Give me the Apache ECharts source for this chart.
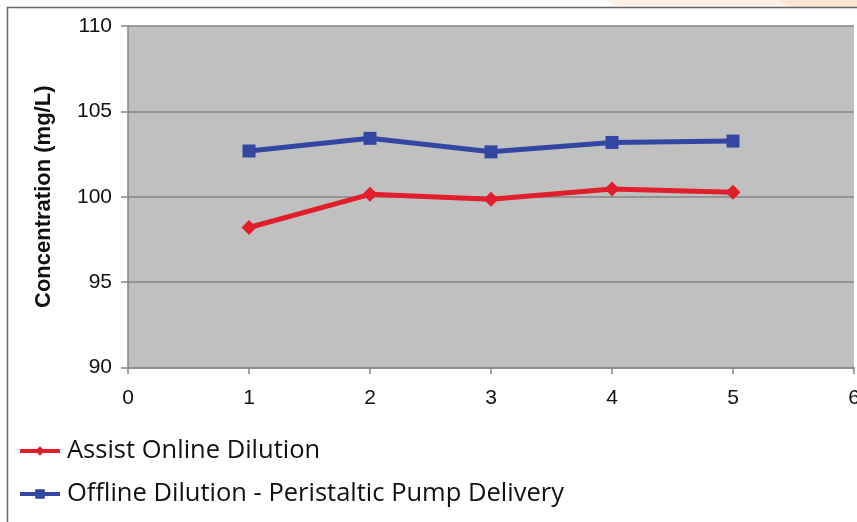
<!DOCTYPE html>
<html><head><meta charset="utf-8">
<script src="https://cdn.jsdelivr.net/npm/echarts@6/dist/echarts.min.js"></script>
<style>html,body{margin:0;padding:0;background:#fff}#c{width:857px;height:522px}</style>
</head><body><div id="c"></div>
<script>
const runs = [1, 2, 3, 4, 5];
const assistOnline = [98.2, 100.14, 99.85, 100.45, 100.26];
const offlinePump = [102.68, 103.42, 102.63, 103.18, 103.26];
const seriesNames = ['Assist Online Dilution', 'Offline Dilution - Peristaltic Pump Delivery'];
const yTitle = 'Concentration (mg/L)';

const chart = echarts.init(document.getElementById('c'), null, {renderer: 'canvas'});
const axisGray = '#868686';
chart.setOption({
  animation: false,
  backgroundColor: '#ffffff',
  graphic: [
    {type: 'polygon', shape: {points: [[605,0],[857,0],[857,7],[620,7]]}, style: {fill: '#fdf1e8'}, z: -10},
    {type: 'polygon', shape: {points: [[780,0],[857,0],[857,7],[790,7]]}, style: {fill: '#fbe6d6'}, z: -9},
    {type: 'rect', shape: {x: 7.5, y: 7.5, width: 900, height: 600}, style: {fill: 'none', stroke: '#666', lineWidth: 1.5}, z: 10}
  ],
  grid: {left: 128, top: 26, right: 3, bottom: 154.5, show: true, backgroundColor: '#c0c0c0', borderWidth: 0, outerBoundsMode: 'none', containLabel: false},
  legend: {
    orient: 'vertical', left: 18, top: 438, padding: 0, itemGap: 17, itemWidth: 40, itemHeight: 12,
    lineStyle: {width: 4},
    textStyle: {fontFamily: 'Open Sans', fontSize: 25.5, lineHeight: 26, color: '#111', padding: [0,0,0,2]},
    data: seriesNames
  },
  xAxis: {
    type: 'value', min: 0, max: 6, interval: 1,
    axisLine: {show: true, onZero: false, lineStyle: {color: axisGray, width: 1.5}},
    axisTick: {show: true, length: 6.5, lineStyle: {color: axisGray, width: 1.5}},
    splitLine: {show: false},
    axisLabel: {fontFamily: 'Liberation Sans', fontSize: 21, color: '#111', margin: 20}
  },
  yAxis: {
    type: 'value', min: 90, max: 110, interval: 5,
    name: yTitle, nameLocation: 'middle', nameGap: 73,
    nameTextStyle: {fontFamily: 'Liberation Sans', fontWeight: 'bold', fontSize: 22, color: '#111'},
    axisLine: {show: true, lineStyle: {color: axisGray, width: 1.5}},
    axisTick: {show: true, length: 7, lineStyle: {color: axisGray, width: 1.5}},
    splitLine: {show: true, lineStyle: {color: axisGray, width: 1.5}},
    axisLabel: {fontFamily: 'Liberation Sans', fontSize: 21, color: '#111', margin: 16}
  },
  series: [
    {
      name: seriesNames[0], type: 'line',
      data: runs.map((r, i) => [r, assistOnline[i]]),
      symbol: 'diamond', symbolSize: 15, showAllSymbol: true,
      lineStyle: {color: '#e01f2a', width: 5},
      itemStyle: {color: '#e01f2a'}
    },
    {
      name: seriesNames[1], type: 'line',
      data: runs.map((r, i) => [r, offlinePump[i]]),
      symbol: 'rect', symbolSize: 13, showAllSymbol: true,
      lineStyle: {color: '#3347a2', width: 5},
      itemStyle: {color: '#3347a2'}
    }
  ]
});
</script></body></html>
